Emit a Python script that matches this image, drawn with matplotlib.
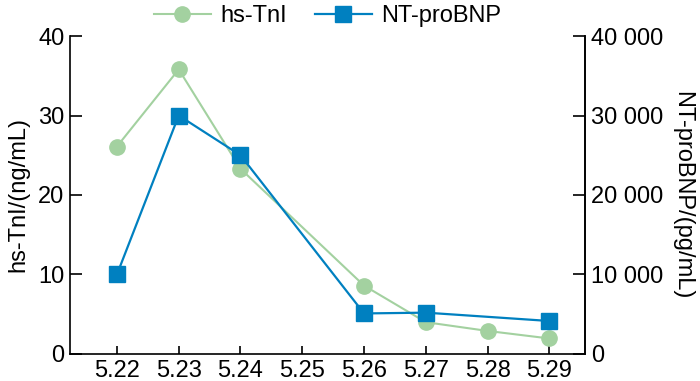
import matplotlib
matplotlib.use("Agg")
import matplotlib.pyplot as plt
from matplotlib.ticker import FuncFormatter

plt.rcParams['font.family'] = ['Liberation Sans', 'DejaVu Sans']

x_labels = ["5.22", "5.23", "5.24", "5.25", "5.26", "5.27", "5.28", "5.29"]
tni_x = ["5.22", "5.23", "5.24", "5.26", "5.27", "5.28", "5.29"]
tni_y = [26.1, 35.8, 23.3, 8.6, 4.0, 2.9, 1.95]
bnp_x = ["5.22", "5.23", "5.24", "5.26", "5.27", "5.29"]
bnp_y = [10000, 30000, 25000, 5100, 5200, 4150]

green = "#a3d1a0"
blue = "#0080c0"
fs = 17

fig = plt.figure(figsize=(7, 3.81), dpi=100)
ax = fig.add_axes([0.1, 0.0709, 0.736, 0.8346])
ax2 = ax.twinx()

pos = {l: i for i, l in enumerate(x_labels)}
l1, = ax.plot([pos[v] for v in tni_x], tni_y, color=green, lw=1.5, marker='o',
              ms=11, mec=green, mfc=green, label="hs-TnI", zorder=3)
l2, = ax2.plot([pos[v] for v in bnp_x], bnp_y, color=blue, lw=1.6, marker='s',
               ms=12, mec=blue, mfc=blue, label="NT-proBNP", zorder=3)

ax.set_xlim(-0.76, 7.58)
ax.set_ylim(0, 40)
ax2.set_ylim(0, 40000)
ax.set_xticks(range(len(x_labels)))
ax.set_xticklabels(x_labels)
ax.set_yticks([0, 10, 20, 30, 40])
ax2.set_yticks([0, 10000, 20000, 30000, 40000])
ax2.yaxis.set_major_formatter(FuncFormatter(lambda v, p: f"{int(v):,}".replace(",", " ")))

for a in (ax, ax2):
    a.spines['top'].set_visible(False)
    a.spines['left'].set_linewidth(1.2)
    a.spines['right'].set_linewidth(1.2)
    a.spines['bottom'].set_linewidth(1.2)
    a.tick_params(direction='in', width=1.2, labelsize=fs, pad=4)
ax.tick_params(axis='x', length=6)
ax.tick_params(axis='y', length=8.5)
ax2.tick_params(axis='y', length=8.5)
ax2.spines['left'].set_visible(False)
ax2.spines['bottom'].set_visible(False)

ax.set_ylabel("hs-TnI/(ng/mL)", fontsize=fs, labelpad=6)
ax2.set_ylabel("NT-proBNP/(pg/mL)", fontsize=fs, rotation=270, labelpad=22)

fig.legend(handles=[l1, l2], loc='center', bbox_to_anchor=(0.468, 0.958), ncol=2,
           frameon=False, fontsize=fs, handlelength=2.4, columnspacing=1.2,
           handletextpad=0.4, borderaxespad=0)

fig.savefig("out.png", dpi=100)
